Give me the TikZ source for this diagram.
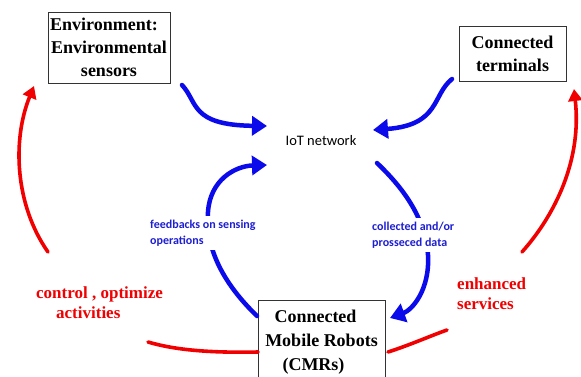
\documentclass[tikz,border=0pt]{standalone}
\usepackage{fontspec}
\setmainfont{Liberation Serif}
\newfontfamily\labelfont{Carlito}
\usetikzlibrary{arrows.meta}
\definecolor{flowblue}{RGB}{10,10,235}
\definecolor{labelblue}{RGB}{30,30,210}
\definecolor{ctrlred}{RGB}{240,0,0}
\begin{document}
\begin{tikzpicture}[x=1pt,y=-1pt,
  box/.style={draw=black!80, line width=1pt, inner sep=0pt, align=center,
    font=\fontsize{18}{23}\selectfont\bfseries},
  flow/.style={draw=flowblue, line width=4.5pt, line cap=round,
    -{Triangle[length=15pt,width=19pt]}},
  ctrl/.style={draw=ctrlred, line width=3.6pt, line cap=round,
    -{Triangle[length=12pt,width=14pt]}},
  ctrlline/.style={draw=ctrlred, line width=3.6pt, line cap=round},
  flowlabel/.style={text=labelblue, fill=white, align=left, inner xsep=1pt,
    inner ysep=4pt, font=\labelfont\fontsize{12}{16}\selectfont\bfseries},
  ctrllabel/.style={text=ctrlred, align=left, inner sep=0pt,
    font=\fontsize{17}{20}\selectfont\bfseries}]
\path[use as bounding box, clip] (0,0) rectangle (581,376);
\fill[white] (0,0) rectangle (581,376);

% the three parties and the network between them
\node[box, minimum width=122pt, minimum height=71pt] (env) at (109,47.5)
  {Environment:\hspace*{10pt}\\Environmental\\sensors};
\node[box, minimum width=107pt, minimum height=55pt] (term) at (512.5,53.5)
  {Connected\\terminals};
% the robots' box runs on below the lower edge
\node[box, minimum width=127pt, inner ysep=10pt, text depth=80pt, anchor=north,
  font=\fontsize{18}{24}\selectfont\bfseries] (cmr) at (321.5,300)
  {Connected\hspace*{12pt}\\Mobile Robots\\(CMRs)\hspace*{16pt}};
\node[font=\labelfont\fontsize{14.5}{17}\selectfont] (iot) at (321,141) {IoT network};

% end points of the connectors
\coordinate (envout) at (182,85);
\coordinate (iotinl) at (267,126);
\coordinate (termout) at (452,79);
\coordinate (iotinr) at (373,130);
\coordinate (cmrtl) at (257,316);
\coordinate (iotinb) at (267,165);
\coordinate (iotout) at (377,163);
\coordinate (cmrtr) at (390,318);
\coordinate (cmrl) at (258,352);
\coordinate (ctrlA) at (148,342);
\coordinate (ctrlB) at (48,252);
\coordinate (envin) at (34,86);
\coordinate (cmrr) at (388,352);
\coordinate (servA) at (447,330);
\coordinate (servB) at (522,252);
\coordinate (termin) at (574,89);

% blue data flows
\draw[flow] (envout) .. controls (198,102) and (190,125) .. (iotinl);
\draw[flow] (termout) .. controls (432,95) and (440,125) .. (iotinr);
\draw[flow] (cmrtl) .. controls (225,285) and (205,250) .. (208,212)
  .. controls (210,180) and (235,166) .. (iotinb);
\draw[flow] (iotout) .. controls (400,185) and (425,215) .. (428,255)
  .. controls (430,290) and (412,310) .. (cmrtr);

% red control loops
\draw[ctrlline] (cmrl) .. controls (210,353) and (175,350) .. (ctrlA);
\draw[ctrl] (ctrlB) .. controls (15,205) and (12,140) .. (envin);
\draw[ctrlline] (cmrr) .. controls (410,345) and (430,336) .. (servA);
\draw[ctrl] (servB) .. controls (555,215) and (582,160) .. (termin);

% labels
\node[flowlabel, anchor=west] (fbk) at (149,233)
  {feedbacks on sensing\\operations};
\node[flowlabel, anchor=west] (col) at (371,235)
  {collected and/or\\prosseced data};
\node[ctrllabel, anchor=west] (ctl) at (36,303)
  {control , optimize\\\hspace*{20pt}activities};
\node[ctrllabel, anchor=west] (srv) at (457,294)
  {enhanced\\services};
\end{tikzpicture}
\end{document}
